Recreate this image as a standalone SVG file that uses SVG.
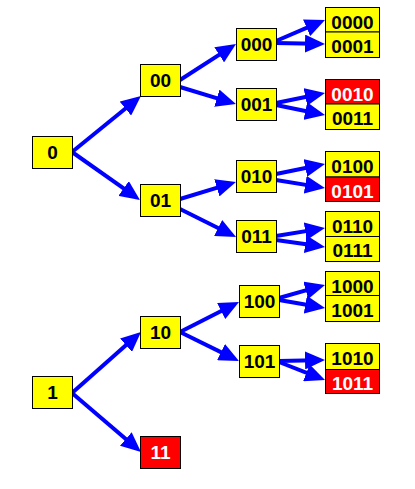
<svg xmlns="http://www.w3.org/2000/svg" width="415" height="489" viewBox="0 0 415 489">
<style>
.n rect{stroke:#000;stroke-width:1}
.y rect{fill:#FFFF00}
.r rect{fill:#FF0000}
text{font-family:"Liberation Sans",Arial,sans-serif;font-weight:bold;font-size:19px;text-anchor:middle}
.y text{fill:#000}
.r text{fill:#FFF}
#edges line{stroke:#0000FF;stroke-width:4;marker-end:url(#ah)}
</style>
<defs>
<marker id="ah" markerUnits="userSpaceOnUse" markerWidth="20" markerHeight="18" refX="10" refY="9" orient="auto" viewBox="0 0 20 18"><path d="M0,0 L20,9 L0,18 z" fill="#0000FF"/></marker>
</defs>
<rect width="415" height="489" fill="#FFF"/>
<g id="edges">
<line x1="72" y1="152" x2="133.2" y2="102.3"/>
<line x1="72" y1="152" x2="131.8" y2="194.2"/>
<line x1="180" y1="80" x2="227.6" y2="49.4"/>
<line x1="180" y1="87" x2="226.4" y2="101.1"/>
<line x1="180" y1="199" x2="226.4" y2="184.9"/>
<line x1="180" y1="209" x2="227.1" y2="232.5"/>
<line x1="276" y1="41" x2="315.8" y2="23.9"/>
<line x1="276" y1="43" x2="315" y2="43.8"/>
<line x1="276" y1="103" x2="315.2" y2="95"/>
<line x1="276" y1="105" x2="315.2" y2="113"/>
<line x1="276" y1="174" x2="315.2" y2="166"/>
<line x1="276" y1="180" x2="315.1" y2="186.4"/>
<line x1="276" y1="236" x2="315.1" y2="229.6"/>
<line x1="276" y1="240" x2="315.1" y2="245.6"/>
<line x1="72" y1="393" x2="133.5" y2="338.6"/>
<line x1="72" y1="393" x2="133.4" y2="445.5"/>
<line x1="180" y1="332" x2="230.1" y2="306.5"/>
<line x1="180" y1="332" x2="230" y2="356.6"/>
<line x1="279" y1="298" x2="315.4" y2="287.7"/>
<line x1="279" y1="300" x2="315.2" y2="306.3"/>
<line x1="279" y1="361" x2="315" y2="360.2"/>
<line x1="279" y1="362" x2="315.7" y2="376.4"/>
</g>
<g id="n0" class="n y"><rect x="32.5" y="136.5" width="40" height="32"/><text x="52.5" y="158.5">0</text></g>
<g id="n00" class="n y"><rect x="140.5" y="64.5" width="40" height="32"/><text x="160.5" y="86.5">00</text></g>
<g id="n01" class="n y"><rect x="140.5" y="184.5" width="40" height="32"/><text x="160.5" y="206.5">01</text></g>
<g id="n000" class="n y"><rect x="236.5" y="28.5" width="40" height="32"/><text x="256.5" y="50.5">000</text></g>
<g id="n001" class="n y"><rect x="236.5" y="88.5" width="40" height="32"/><text x="256.5" y="110.5">001</text></g>
<g id="n010" class="n y"><rect x="236.5" y="160.5" width="40" height="32"/><text x="256.5" y="182.5">010</text></g>
<g id="n011" class="n y"><rect x="236.5" y="220.5" width="40" height="32"/><text x="256.5" y="242.5">011</text></g>
<g id="n0000" class="n y"><rect x="325.5" y="7.5" width="54" height="24.5"/><text x="352.5" y="29">0000</text></g>
<g id="n0001" class="n y"><rect x="325.5" y="32" width="54" height="25.5"/><text x="352.5" y="53">0001</text></g>
<g id="n0010" class="n r"><rect x="325.5" y="79.5" width="54" height="24.5"/><text x="352.5" y="100.5">0010</text></g>
<g id="n0011" class="n y"><rect x="325.5" y="104" width="54" height="25.5"/><text x="352.5" y="124.5">0011</text></g>
<g id="n0100" class="n y"><rect x="325.5" y="151.5" width="54" height="25.5"/><text x="352.5" y="173">0100</text></g>
<g id="n0101" class="n r"><rect x="325.5" y="177" width="54" height="24.5"/><text x="352.5" y="197.5">0101</text></g>
<g id="n0110" class="n y"><rect x="325.5" y="211.5" width="54" height="25"/><text x="352.5" y="232.5">0110</text></g>
<g id="n0111" class="n y"><rect x="325.5" y="236.5" width="54" height="25"/><text x="352.5" y="257">0111</text></g>
<g id="n1" class="n y"><rect x="32.5" y="376.5" width="40" height="32"/><text x="52.5" y="398.5">1</text></g>
<g id="n10" class="n y"><rect x="140.5" y="316.5" width="40" height="32"/><text x="160.5" y="338.5">10</text></g>
<g id="n11" class="n r"><rect x="140.5" y="436.5" width="40" height="32"/><text x="160.5" y="458.5">11</text></g>
<g id="n100" class="n y"><rect x="239.5" y="285.5" width="40" height="32"/><text x="259.5" y="307.5">100</text></g>
<g id="n101" class="n y"><rect x="239.5" y="345.5" width="40" height="32"/><text x="259.5" y="367.5">101</text></g>
<g id="n1000" class="n y"><rect x="325.5" y="271.5" width="54" height="24"/><text x="352.5" y="292.5">1000</text></g>
<g id="n1001" class="n y"><rect x="325.5" y="295.5" width="54" height="26"/><text x="352.5" y="316.5">1001</text></g>
<g id="n1010" class="n y"><rect x="325.5" y="343.5" width="54" height="26"/><text x="352.5" y="364.5">1010</text></g>
<g id="n1011" class="n r"><rect x="325.5" y="369.5" width="54" height="24"/><text x="352.5" y="389.5">1011</text></g>
</svg>
